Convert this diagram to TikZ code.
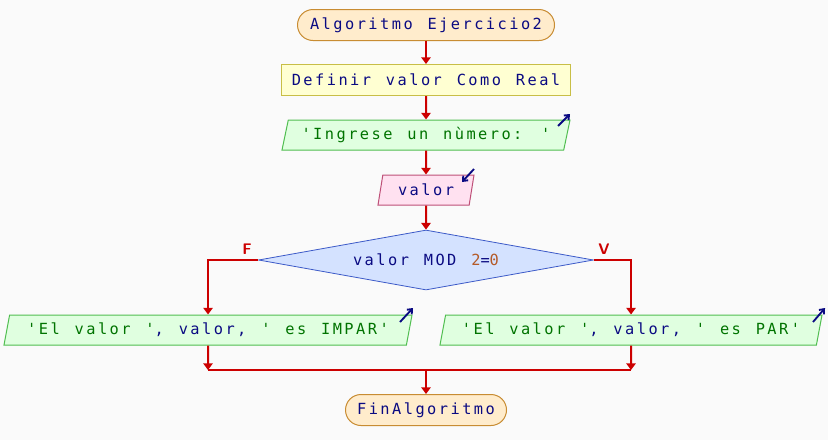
\documentclass[tikz,border=0pt]{standalone}
\usepackage{fontspec}
\usetikzlibrary{shapes.geometric,shapes.misc,arrows.meta,calc}
\newfontfamily\mono[LetterSpace=16,WordSpace=1.27]{DejaVu Sans Mono}
\definecolor{bgc}{RGB}{250,250,250}
\definecolor{navy}{RGB}{10,10,130}
\definecolor{strc}{RGB}{0,115,0}
\definecolor{numc}{RGB}{180,90,40}
\definecolor{linec}{RGB}{204,0,0}
\definecolor{termfill}{RGB}{255,236,204}
\definecolor{termdraw}{RGB}{200,140,50}
\definecolor{deffill}{RGB}{255,255,210}
\definecolor{defdraw}{RGB}{200,190,70}
\definecolor{outfill}{RGB}{224,255,224}
\definecolor{outdraw}{RGB}{80,190,80}
\definecolor{infill}{RGB}{255,225,240}
\definecolor{indraw}{RGB}{190,80,120}
\definecolor{diafill}{RGB}{212,226,255}
\definecolor{diadraw}{RGB}{60,90,200}
\begin{document}
\begin{tikzpicture}[x=0.75pt,y=-0.75pt,
  every node/.style={font=\mono\fontsize{11.5pt}{13pt}\selectfont, text=navy, inner sep=0pt},
  term/.style={rounded rectangle, draw=termdraw, fill=termfill, line width=0.75pt, minimum height=31*0.75pt},
  defbox/.style={rectangle, draw=defdraw, fill=deffill, line width=0.75pt, minimum height=31*0.75pt},
  outbox/.style={trapezium, trapezium left angle=68, trapezium right angle=112, trapezium stretches body, draw=outdraw, fill=outfill, line width=0.75pt, minimum height=30*0.75pt},
  inbox/.style={trapezium, trapezium left angle=68, trapezium right angle=112, trapezium stretches body, draw=indraw, fill=infill, line width=0.75pt, minimum height=30*0.75pt},
  decision/.style={diamond, aspect=5.58, draw=diadraw, fill=diafill, line width=0.6pt},
  flow/.style={draw=linec, line width=1.5pt, -{Triangle[length=5pt,width=7pt]}},
  flowplain/.style={draw=linec, line width=1.5pt},
  ioarrow/.style={draw=navy, line width=1.4pt, -{Straight Barb[length=3pt,width=5pt]}},
  lbl/.style={text=linec, font=\sffamily\bfseries\fontsize{11.5pt}{13pt}\selectfont}
]
\useasboundingbox[fill=bgc] (0,0) rectangle (828,440);

\node[term, minimum width=257*0.75pt] (start) at (426,25) {Algoritmo Ejercicio2};
\node[defbox, minimum width=289*0.75pt] (def) at (426,80) {Definir valor Como Real};
\node[outbox, minimum width=288*0.75pt] (in1) at (426,135) {\color{strc}'Ingrese un nùmero: '};
\node[inbox, minimum width=96*0.75pt] (rd) at (426,190) {valor};
\node[decision, minimum width=335*0.75pt, minimum height=60*0.75pt] (dia) at (426,260) {valor MOD {\color{numc}2}={\color{numc}0}};
\node[outbox, minimum width=408*0.75pt] (out1) at (208,330) {{\color{strc}'El valor '}, valor, {\color{strc}' es IMPAR'}};
\node[outbox, minimum width=382*0.75pt] (out2) at (631,330) {{\color{strc}'El valor '}, valor, {\color{strc}' es PAR'}};
\node[term, minimum width=161*0.75pt] (fin) at (426,410) {FinAlgoritmo};

\node[lbl] (lf) at (247,249) {F};
\node[lbl] (lv) at (604,249) {V};

\coordinate (j1) at (208,370);
\coordinate (j2) at (631,370);
\coordinate (jm) at (426,370);

\draw[flow] (start.south) -- (def.north);
\draw[flow] (def.south) -- (in1.north);
\draw[flow] (in1.south) -- (rd.north);
\draw[flow] (rd.south) -- (dia.north);
\draw[flow] (dia.west) -| (out1.north);
\draw[flow] (dia.east) -| (out2.north);
\draw[flow] (out1.south) -- (j1);
\draw[flow] (out2.south) -- (j2);
\draw[flowplain] (j1) -- (j2);
\draw[flow] (jm) -- (fin.north);

\coordinate (a1s) at (558,126); \coordinate (a1e) at (570,114);
\coordinate (a2s) at (474,169); \coordinate (a2e) at (462,182);
\coordinate (a3s) at (400,322); \coordinate (a3e) at (413,308);
\coordinate (a4s) at (813,322); \coordinate (a4e) at (825,308);
\draw[ioarrow] (a1s) -- (a1e);
\draw[ioarrow] (a2s) -- (a2e);
\draw[ioarrow] (a3s) -- (a3e);
\draw[ioarrow] (a4s) -- (a4e);
\end{tikzpicture}
\end{document}
